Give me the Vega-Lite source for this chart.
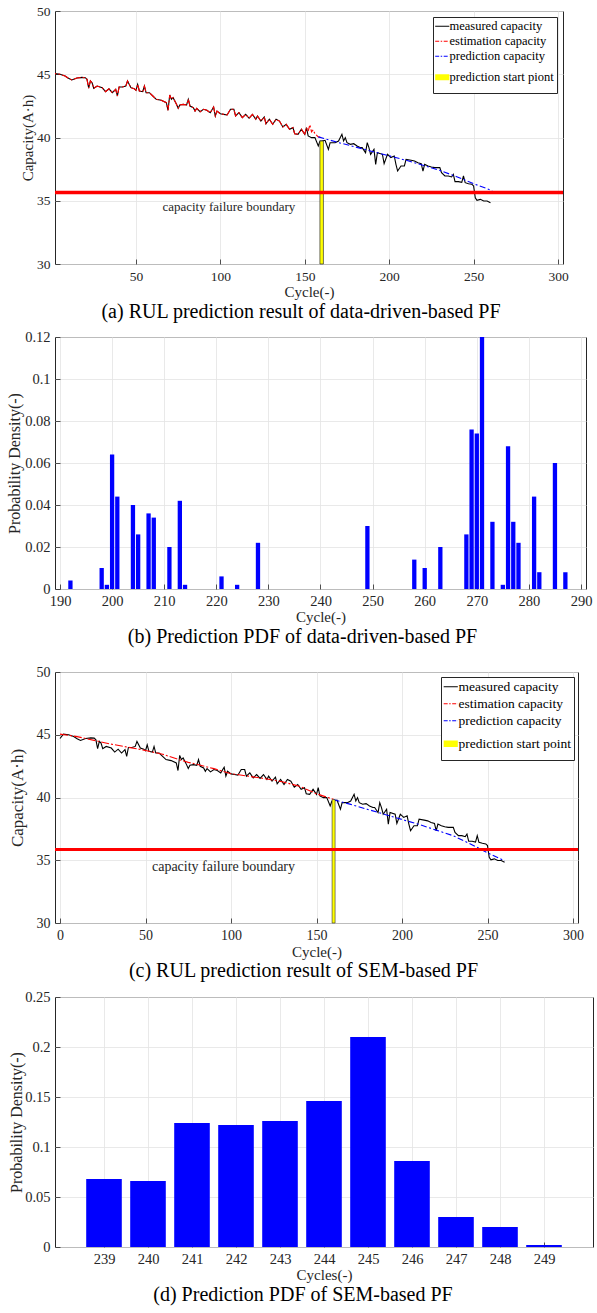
{
  "$schema": "https://vega.github.io/schema/vega-lite/v6.json",
  "padding": {"left": 5, "top": 3, "right": 5, "bottom": 5},
  "background": "white",
  "config": {
    "font": "Liberation Serif",
    "view": {"stroke": "#262626", "strokeWidth": 1},
    "axis": {"labelFont": "Liberation Serif", "titleFont": "Liberation Serif", "labelFontSize": 13.5, "titleFontSize": 15, "titleFontWeight": "normal", "labelColor": "#262626", "titleColor": "#262626", "tickColor": "#262626", "tickSize": -5, "tickWidth": 0.8, "domain": false, "grid": true, "gridColor": "#e3e3e3", "gridWidth": 0.8, "labelFlush": false, "labelOverlap": false, "labelPadding": 10},
    "title": {"font": "Liberation Serif", "fontWeight": "normal", "fontSize": 20, "color": "#000000", "subtitleFont": "Liberation Serif"},
    "legend": {"labelFont": "Liberation Serif", "labelColor": "#000000", "symbolType": "stroke", "symbolStrokeWidth": 1.2},
    "style": {"guide-label": {"font": "Liberation Serif"}, "guide-title": {"font": "Liberation Serif"}, "group-title": {"font": "Liberation Serif"}, "text": {"font": "Liberation Serif"}}
  },
  "datasets": {
    "cap": [
      {"cycle":0,"capacity":44.7},{"cycle":2,"capacity":45.05},{"cycle":5,"capacity":45.0},{"cycle":8,"capacity":44.86},{"cycle":10,"capacity":44.68},{"cycle":12,"capacity":44.55},{"cycle":15,"capacity":44.7},{"cycle":18,"capacity":44.75},{"cycle":20,"capacity":44.73},{"cycle":21,"capacity":44.6},{"cycle":22,"capacity":43.9},{"cycle":23,"capacity":44.47},{"cycle":24,"capacity":44.33},{"cycle":25,"capacity":43.89},{"cycle":27,"capacity":44.07},{"cycle":30,"capacity":43.94},{"cycle":32,"capacity":43.62},{"cycle":34,"capacity":43.85},{"cycle":36,"capacity":43.54},{"cycle":38,"capacity":43.81},{"cycle":39,"capacity":43.28},{"cycle":40,"capacity":43.99},{"cycle":42,"capacity":43.99},{"cycle":44,"capacity":44.07},{"cycle":45,"capacity":44.47},{"cycle":47,"capacity":43.94},{"cycle":49,"capacity":43.85},{"cycle":50,"capacity":43.73},{"cycle":51,"capacity":44.2},{"cycle":52,"capacity":43.68},{"cycle":54,"capacity":43.62},{"cycle":55,"capacity":44.07},{"cycle":56,"capacity":43.54},{"cycle":58,"capacity":43.54},{"cycle":60,"capacity":43.28},{"cycle":62,"capacity":43.02},{"cycle":65,"capacity":42.94},{"cycle":68,"capacity":42.75},{"cycle":69,"capacity":42.15},{"cycle":70,"capacity":43.36},{"cycle":71,"capacity":43.02},{"cycle":72,"capacity":43.15},{"cycle":74,"capacity":42.62},{"cycle":75,"capacity":42.31},{"cycle":76,"capacity":42.57},{"cycle":78,"capacity":42.62},{"cycle":80,"capacity":42.57},{"cycle":81,"capacity":43.02},{"cycle":82,"capacity":42.49},{"cycle":84,"capacity":42.36},{"cycle":85,"capacity":42.09},{"cycle":86,"capacity":42.31},{"cycle":88,"capacity":42.04},{"cycle":90,"capacity":42.23},{"cycle":92,"capacity":42.15},{"cycle":94,"capacity":41.96},{"cycle":96,"capacity":42.41},{"cycle":97,"capacity":41.7},{"cycle":98,"capacity":42.09},{"cycle":100,"capacity":41.88},{"cycle":102,"capacity":41.83},{"cycle":104,"capacity":41.78},{"cycle":106,"capacity":42.23},{"cycle":108,"capacity":42.23},{"cycle":109,"capacity":41.7},{"cycle":111,"capacity":41.96},{"cycle":113,"capacity":41.57},{"cycle":115,"capacity":41.83},{"cycle":117,"capacity":41.52},{"cycle":119,"capacity":41.83},{"cycle":121,"capacity":41.44},{"cycle":122,"capacity":41.7},{"cycle":124,"capacity":41.3},{"cycle":126,"capacity":41.62},{"cycle":127,"capacity":41.09},{"cycle":129,"capacity":41.44},{"cycle":131,"capacity":41.04},{"cycle":133,"capacity":41.44},{"cycle":135,"capacity":41.3},{"cycle":137,"capacity":40.83},{"cycle":139,"capacity":41.04},{"cycle":141,"capacity":40.65},{"cycle":143,"capacity":40.78},{"cycle":144,"capacity":40.3},{"cycle":146,"capacity":40.25},{"cycle":148,"capacity":40.65},{"cycle":150,"capacity":40.25},{"cycle":151,"capacity":40.78},{"cycle":152,"capacity":40.12},{"cycle":154,"capacity":39.99},{"cycle":156,"capacity":39.99},{"cycle":158,"capacity":39.33},{"cycle":159,"capacity":39.72},{"cycle":160,"capacity":39.72},{"cycle":162,"capacity":39.78},{"cycle":164,"capacity":39.06},{"cycle":165,"capacity":39.59},{"cycle":168,"capacity":39.59},{"cycle":170,"capacity":39.72},{"cycle":172,"capacity":40.25},{"cycle":173,"capacity":39.72},{"cycle":174,"capacity":39.99},{"cycle":175,"capacity":39.59},{"cycle":177,"capacity":39.46},{"cycle":179,"capacity":39.51},{"cycle":181,"capacity":39.33},{"cycle":183,"capacity":39.2},{"cycle":184,"capacity":39.2},{"cycle":186,"capacity":38.8},{"cycle":187,"capacity":39.59},{"cycle":188,"capacity":39.2},{"cycle":189,"capacity":38.67},{"cycle":191,"capacity":39.06},{"cycle":192,"capacity":37.88},{"cycle":193,"capacity":38.8},{"cycle":196,"capacity":38.67},{"cycle":197,"capacity":37.93},{"cycle":199,"capacity":38.67},{"cycle":201,"capacity":38.41},{"cycle":203,"capacity":38.54},{"cycle":204,"capacity":37.88},{"cycle":205,"capacity":37.35},{"cycle":207,"capacity":37.75},{"cycle":209,"capacity":37.75},{"cycle":210,"capacity":38.27},{"cycle":213,"capacity":38.2},{"cycle":215,"capacity":38.14},{"cycle":217,"capacity":38.01},{"cycle":219,"capacity":37.93},{"cycle":220,"capacity":37.35},{"cycle":221,"capacity":37.88},{"cycle":223,"capacity":37.75},{"cycle":225,"capacity":37.67},{"cycle":227,"capacity":37.62},{"cycle":230,"capacity":37.62},{"cycle":231,"capacity":37.22},{"cycle":233,"capacity":36.96},{"cycle":235,"capacity":36.96},{"cycle":237,"capacity":36.88},{"cycle":238,"capacity":37.09},{"cycle":239,"capacity":36.51},{"cycle":241,"capacity":36.51},{"cycle":243,"capacity":36.45},{"cycle":244,"capacity":36.96},{"cycle":245,"capacity":36.43},{"cycle":247,"capacity":36.35},{"cycle":249,"capacity":36.3},{"cycle":250,"capacity":36.17},{"cycle":251,"capacity":35.24},{"cycle":252,"capacity":35.03},{"cycle":254,"capacity":35.11},{"cycle":256,"capacity":34.98},{"cycle":258,"capacity":34.98},{"cycle":260,"capacity":34.85}
    ],
    "est_a_tail": [
      {"cycle":150,"capacity":40.25},{"cycle":151,"capacity":40.78},{"cycle":152,"capacity":40.5},{"cycle":153,"capacity":41.0},{"cycle":154,"capacity":40.45},{"cycle":155,"capacity":40.6},{"cycle":156,"capacity":40.3},{"cycle":158,"capacity":40.05},{"cycle":160,"capacity":40.0}
    ],
    "pred_a": [
      {"cycle":158,"capacity":40.05},{"cycle":170,"capacity":39.6},{"cycle":180,"capacity":39.25},{"cycle":190,"capacity":38.9},{"cycle":200,"capacity":38.55},{"cycle":210,"capacity":38.2},{"cycle":220,"capacity":37.8},{"cycle":230,"capacity":37.4},{"cycle":240,"capacity":36.9},{"cycle":250,"capacity":36.35},{"cycle":261,"capacity":35.8}
    ],
    "est_c": [
      {"cycle":0,"capacity":45.05},{"cycle":10,"capacity":44.85},{"cycle":20,"capacity":44.55},{"cycle":30,"capacity":44.25},{"cycle":40,"capacity":44.0},{"cycle":50,"capacity":43.75},{"cycle":60,"capacity":43.45},{"cycle":70,"capacity":43.0},{"cycle":75,"capacity":42.8},{"cycle":80,"capacity":42.65},{"cycle":90,"capacity":42.3},{"cycle":100,"capacity":41.9},{"cycle":110,"capacity":41.7},{"cycle":120,"capacity":41.5},{"cycle":130,"capacity":41.25},{"cycle":140,"capacity":40.9},{"cycle":150,"capacity":40.3},{"cycle":160,"capacity":39.85}
    ],
    "pred_c": [
      {"cycle":160,"capacity":39.83},{"cycle":170,"capacity":39.45},{"cycle":180,"capacity":39.05},{"cycle":190,"capacity":38.65},{"cycle":200,"capacity":38.25},{"cycle":210,"capacity":37.85},{"cycle":220,"capacity":37.4},{"cycle":230,"capacity":36.95},{"cycle":240,"capacity":36.3},{"cycle":250,"capacity":35.6},{"cycle":260,"capacity":34.95}
    ],
    "start_a": [{"cycle":160,"capacity":39.72}],
    "start_c": [{"cycle":160,"capacity":39.83}],
    "bound_a": [{"capacity":35.65}],
    "bound_c": [{"capacity":35.85}],
    "pdf_b": [
      {"cycle":192,"pdf":0.004},{"cycle":198,"pdf":0.010},{"cycle":199,"pdf":0.002},{"cycle":200,"pdf":0.064},{"cycle":201,"pdf":0.044},{"cycle":204,"pdf":0.040},{"cycle":205,"pdf":0.026},{"cycle":207,"pdf":0.036},{"cycle":208,"pdf":0.034},{"cycle":211,"pdf":0.020},{"cycle":213,"pdf":0.042},{"cycle":214,"pdf":0.002},{"cycle":221,"pdf":0.006},{"cycle":224,"pdf":0.002},{"cycle":228,"pdf":0.022},{"cycle":249,"pdf":0.030},{"cycle":258,"pdf":0.014},{"cycle":260,"pdf":0.010},{"cycle":263,"pdf":0.020},{"cycle":268,"pdf":0.026},{"cycle":269,"pdf":0.076},{"cycle":270,"pdf":0.074},{"cycle":271,"pdf":0.12},{"cycle":273,"pdf":0.032},{"cycle":275,"pdf":0.002},{"cycle":276,"pdf":0.068},{"cycle":277,"pdf":0.032},{"cycle":278,"pdf":0.022},{"cycle":281,"pdf":0.044},{"cycle":282,"pdf":0.008},{"cycle":285,"pdf":0.060},{"cycle":287,"pdf":0.008}
    ],
    "pdf_d": [
      {"cycle":239,"pdf":0.068},{"cycle":240,"pdf":0.066},{"cycle":241,"pdf":0.124},{"cycle":242,"pdf":0.122},{"cycle":243,"pdf":0.126},{"cycle":244,"pdf":0.146},{"cycle":245,"pdf":0.21},{"cycle":246,"pdf":0.086},{"cycle":247,"pdf":0.030},{"cycle":248,"pdf":0.020},{"cycle":249,"pdf":0.002}
    ]
  },
  "resolve": {"scale": {"color": "independent"}},
  "spacing": 6,
  "vconcat": [
    {
      "width": 508, "height": 253,
      "title": {"text": "(a) RUL prediction result of data-driven-based PF", "orient": "bottom", "offset": 2, "dx": -8},
      "layer": [
        {"data": {"name": "cap"}, "mark": {"type": "line", "clip": true, "strokeWidth": 1.1},
         "encoding": {
           "x": {"field": "cycle", "type": "quantitative", "scale": {"domain": [5, 300], "nice": false, "zero": false}, "axis": {"values": [50, 100, 150, 200, 250, 300], "title": "Cycle(-)", "titlePadding": 2}},
           "y": {"field": "capacity", "type": "quantitative", "scale": {"domain": [30, 50], "nice": false, "zero": false}, "axis": {"values": [30, 35, 40, 45, 50], "title": "Capacity(A·h)", "minExtent": 20, "maxExtent": 20, "titlePadding": 0}},
           "color": {"datum": "measured capacity", "scale": {"domain": ["measured capacity", "estimation capacity", "prediction capacity", "prediction start piont"], "range": ["#000000", "#ff0000", "#0000ff", "#ffff00"]},
             "legend": {"title": null, "orient": "top-right", "offset": 6, "padding": 3, "strokeColor": "#262626", "fillColor": "#ffffff", "labelFontSize": 12.5, "rowPadding": 2, "labelOffset": 1, "symbolSize": 200,
               "encode": {"symbols": {"update": {
                 "strokeDash": {"signal": "datum.value === 'estimation capacity' || datum.value === 'prediction capacity' ? [4, 1.5, 1.5, 1.5] : [1, 0]"},
                 "strokeWidth": {"signal": "datum.value === 'prediction start piont' ? 6 : 1.2"},
                 "opacity": {"value": 1}
               }}}}}
         }},
        {"data": {"name": "cap"}, "transform": [{"filter": "datum.cycle <= 150"}], "mark": {"type": "line", "clip": true, "strokeWidth": 1.1, "strokeDash": [7, 2, 2, 2]},
         "encoding": {"x": {"field": "cycle", "type": "quantitative"}, "y": {"field": "capacity", "type": "quantitative"}, "color": {"datum": "estimation capacity"}}},
        {"data": {"name": "est_a_tail"}, "mark": {"type": "line", "clip": true, "strokeWidth": 1.1, "strokeDash": [5, 2, 2, 2]},
         "encoding": {"x": {"field": "cycle", "type": "quantitative"}, "y": {"field": "capacity", "type": "quantitative"}, "color": {"datum": "estimation capacity"}}},
        {"data": {"name": "pred_a"}, "mark": {"type": "line", "clip": true, "strokeWidth": 1.1, "strokeDash": [6, 2.5, 2, 2.5]},
         "encoding": {"x": {"field": "cycle", "type": "quantitative"}, "y": {"field": "capacity", "type": "quantitative"}, "color": {"datum": "prediction capacity"}}},
        {"data": {"name": "start_a"}, "mark": {"type": "bar", "size": 3.5, "stroke": "#333333", "strokeWidth": 0.7},
         "encoding": {"x": {"field": "cycle", "type": "quantitative"}, "y": {"field": "capacity", "type": "quantitative"}, "y2": {"datum": 30}, "color": {"datum": "prediction start piont"}}},
        {"data": {"name": "bound_a"}, "mark": {"type": "rule", "color": "#ff0000", "strokeWidth": 3.5},
         "encoding": {"y": {"field": "capacity", "type": "quantitative"}}},
        {"data": {"values": [{}]}, "mark": {"type": "text", "fontSize": 13, "font": "Liberation Serif", "color": "#262626"},
         "encoding": {"x": {"datum": 105, "type": "quantitative"}, "y": {"datum": 34.5, "type": "quantitative"}, "text": {"value": "capacity failure boundary"}}}
      ]
    },
    {
      "width": 531, "height": 252,
      "title": {"text": "(b) Prediction PDF of data-driven-based PF", "subtitle": " ", "subtitleFontSize": 9, "subtitlePadding": 2, "orient": "bottom", "offset": 2, "dx": -18},
      "data": {"name": "pdf_b"},
      "mark": {"type": "bar", "size": 4.3, "color": "#0000ff"},
      "encoding": {
        "x": {"field": "cycle", "type": "quantitative", "scale": {"domain": [190, 290], "nice": false, "zero": false}, "axis": {"values": [190, 200, 210, 220, 230, 240, 250, 260, 270, 280, 290], "title": "Cycle(-)", "titlePadding": 2, "labelFontSize": 14.5}},
        "y": {"field": "pdf", "type": "quantitative", "scale": {"domain": [0, 0.12], "nice": false}, "axis": {"values": [0, 0.02, 0.04, 0.06, 0.08, 0.1, 0.12], "format": ".2~f", "title": "Probability Density(-)", "titleFontSize": 16, "labelFontSize": 14.5, "minExtent": 33, "maxExtent": 33, "titlePadding": 0}}
      }
    },
    {
      "width": 523, "height": 251,
      "title": {"text": "(c) RUL prediction result of SEM-based PF", "orient": "bottom", "offset": 2, "dx": -13},
      "layer": [
        {"data": {"name": "cap"}, "mark": {"type": "line", "clip": true, "strokeWidth": 1.1},
         "encoding": {
           "x": {"field": "cycle", "type": "quantitative", "scale": {"domain": [0, 300], "nice": false, "zero": false}, "axis": {"values": [0, 50, 100, 150, 200, 250, 300], "title": "Cycle(-)", "titlePadding": 2, "labelFontSize": 14}},
           "y": {"field": "capacity", "type": "quantitative", "scale": {"domain": [30, 50], "nice": false, "zero": false}, "axis": {"values": [30, 35, 40, 45, 50], "title": "Capacity(A·h)", "titleFontSize": 17, "labelFontSize": 14, "minExtent": 28.8, "maxExtent": 28.8, "titlePadding": 0}},
           "color": {"datum": "measured capacity", "scale": {"domain": ["measured capacity", "estimation capacity", "prediction capacity", "prediction start point"], "range": ["#000000", "#ff0000", "#0000ff", "#ffff00"]},
             "legend": {"title": null, "orient": "top-right", "offset": 4.5, "padding": 3, "strokeColor": "#262626", "fillColor": "#ffffff", "labelFontSize": 13.5, "rowPadding": 2, "labelOffset": 1, "symbolSize": 200,
               "encode": {"symbols": {"update": {
                 "strokeDash": {"signal": "datum.value === 'estimation capacity' || datum.value === 'prediction capacity' ? [4, 1.5, 1.5, 1.5] : [1, 0]"},
                 "strokeWidth": {"signal": "datum.value === 'prediction start point' ? 6.5 : 1.2"},
                 "opacity": {"value": 1}
               }}}}}
         }},
        {"data": {"name": "est_c"}, "mark": {"type": "line", "clip": true, "strokeWidth": 1.1, "strokeDash": [8, 2, 2, 2]},
         "encoding": {"x": {"field": "cycle", "type": "quantitative"}, "y": {"field": "capacity", "type": "quantitative"}, "color": {"datum": "estimation capacity"}}},
        {"data": {"name": "pred_c"}, "mark": {"type": "line", "clip": true, "strokeWidth": 1.1, "strokeDash": [6, 2.5, 2, 2.5]},
         "encoding": {"x": {"field": "cycle", "type": "quantitative"}, "y": {"field": "capacity", "type": "quantitative"}, "color": {"datum": "prediction capacity"}}},
        {"data": {"name": "start_c"}, "mark": {"type": "bar", "size": 3, "stroke": "#333333", "strokeWidth": 0.6},
         "encoding": {"x": {"field": "cycle", "type": "quantitative"}, "y": {"field": "capacity", "type": "quantitative"}, "y2": {"datum": 30}, "color": {"datum": "prediction start point"}}},
        {"data": {"name": "bound_c"}, "mark": {"type": "rule", "color": "#ff0000", "strokeWidth": 3},
         "encoding": {"y": {"field": "capacity", "type": "quantitative"}}},
        {"data": {"values": [{}]}, "mark": {"type": "text", "fontSize": 14, "font": "Liberation Serif", "color": "#262626"},
         "encoding": {"x": {"datum": 95.6, "type": "quantitative"}, "y": {"datum": 34.46, "type": "quantitative"}, "text": {"value": "capacity failure boundary"}}}
      ]
    },
    {
      "width": 538, "height": 250,
      "title": {"text": "(d) Prediction PDF of SEM-based PF", "orient": "bottom", "offset": 2, "dx": -21},
      "data": {"name": "pdf_d"},
      "mark": {"type": "bar", "size": 35.6, "color": "#0000ff"},
      "encoding": {
        "x": {"field": "cycle", "type": "quantitative", "scale": {"domain": [238, 250], "nice": false, "zero": false}, "axis": {"values": [239, 240, 241, 242, 243, 244, 245, 246, 247, 248, 249], "title": "Cycles(-)", "titlePadding": 2, "labelFontSize": 14.5}},
        "y": {"field": "pdf", "type": "quantitative", "scale": {"domain": [0, 0.25], "nice": false}, "axis": {"values": [0, 0.05, 0.1, 0.15, 0.2, 0.25], "format": ".2~f", "title": "Probability Density(-)", "titleFontSize": 16, "labelFontSize": 14.5, "minExtent": 31, "maxExtent": 31, "titlePadding": 0}}
      }
    }
  ]
}
